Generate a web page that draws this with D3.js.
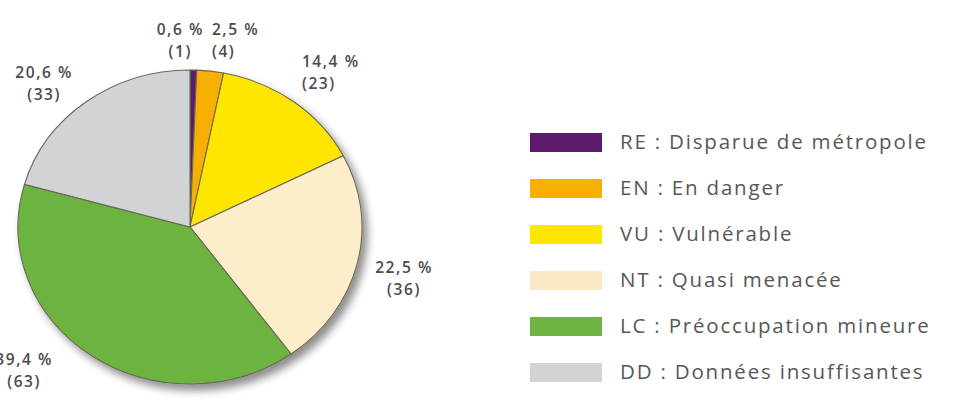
<!DOCTYPE html>
<html>
<head>
<meta charset="utf-8">
<script src="https://cdn.jsdelivr.net/npm/d3@7"></script>
<style>
  body { margin: 0; background: #fff; }
  svg { display: block; }
  .t_pct { font-family: "Open Sans", sans-serif; font-size: 15.5px; font-weight: 600; fill: #4b4a50; letter-spacing: 1.6px; }
  .t_leg { font-family: "Open Sans", sans-serif; font-size: 20.5px; fill: #575757; letter-spacing: 1.8px; }
</style>
</head>
<body>
<svg></svg>
<script>
/* ----------------------------------------------------------
data
---------------------------------------------------------- */

var codes = ["RE", "EN", "VU", "NT", "LC", "DD"];
var names = [
  "RE : Disparue de métropole",
  "EN : En danger",
  "VU : Vulnérable",
  "NT : Quasi menacée",
  "LC : Préoccupation mineure",
  "DD : Données insuffisantes"
];
var counts = [1, 4, 23, 36, 63, 33];
var percents = ["0,6 %", "2,5 %", "14,4 %", "22,5 %", "39,4 %", "20,6 %"];
var colors = ["#5b1a6b", "#f7b000", "#ffe600", "#fcedcb", "#6cb33f", "#d2d3d5"];
var legendColors = ["#5b1a6b", "#f7b000", "#ffe600", "#fbe9c6", "#6cb33f", "#d2d3d5"];

/* ----------------------------------------------------------
setting
---------------------------------------------------------- */

var width = 954;
var height = 406;
var cx = 190, cy = 227;
var rx = 172, ry = 157;

// label nudges (dx, dy, anchor), tweaked by eye
var labelNudge = [
  [-14, 16, "middle"],
  [-4, 15, "start"],
  [-21, 7, "start"],
  [0, 6, "middle"],
  [-40, -20, "middle"],
  [-13, 18, "middle"]
];

var svg = d3.select("svg").attr("width", width).attr("height", height);

// shadow
var defs = svg.append("defs");
var f = defs.append("filter").attr("id", "shadow")
  .attr("x", "-20%").attr("y", "-20%").attr("width", "140%").attr("height", "140%");
f.append("feGaussianBlur").attr("in", "SourceAlpha").attr("stdDeviation", 4);
f.append("feOffset").attr("dx", 5).attr("dy", 6).attr("result", "ob");
f.append("feComponentTransfer").append("feFuncA").attr("type", "linear").attr("slope", 0.45);
var m = f.append("feMerge");
m.append("feMergeNode");
m.append("feMergeNode").attr("in", "SourceGraphic");

/* ----------------------------------------------------------
pie
---------------------------------------------------------- */

var pie = d3.pie().sort(null).value(d => d);
var arcs = pie(counts);
var arc = d3.arc().innerRadius(0).outerRadius(ry);

var gPie = svg.append("g")
  .attr("transform", "translate(" + cx + "," + cy + ") scale(" + (rx / ry) + ",1)")
  .attr("filter", "url(#shadow)");

gPie.selectAll("path")
  .data(arcs).enter().append("path")
  .attr("d", arc)
  .attr("fill", (d, i) => colors[i])
  .attr("stroke", "#6b6757")
  .attr("stroke-width", 1.1)
  .attr("vector-effect", "non-scaling-stroke");

// labels
var labelK = 1.28;
var gLab = svg.append("g");
arcs.forEach(function(d, i) {
  var a = (d.startAngle + d.endAngle) / 2;
  var x = cx + Math.sin(a) * rx * labelK + labelNudge[i][0];
  var y = cy - Math.cos(a) * ry * labelK + labelNudge[i][1];
  var t = gLab.append("text").attr("class", "t_pct")
    .attr("text-anchor", labelNudge[i][2]);
  t.append("tspan").attr("x", x).attr("y", y - 7).text(percents[i]);
  t.append("tspan").attr("x", x).attr("y", y + 15)
    .text("(" + counts[i] + ")");
});

/* ----------------------------------------------------------
legend
---------------------------------------------------------- */

var gLeg = svg.append("g").attr("transform", "translate(530,143)");
var legs = gLeg.selectAll(".legends")
  .data(codes).enter().append("g")
  .attr("class", "legends")
  .attr("transform", (d, i) => "translate(0," + i * 46 + ")");

legs.append("rect")
  .attr("x", 0).attr("y", -10)
  .attr("width", 72).attr("height", 19)
  .attr("fill", (d, i) => legendColors[i]);

legs.append("text")
  .attr("class", "t_leg")
  .attr("x", 90).attr("y", 6)
  .text((d, i) => names[i]);
</script>
</body>
</html>
